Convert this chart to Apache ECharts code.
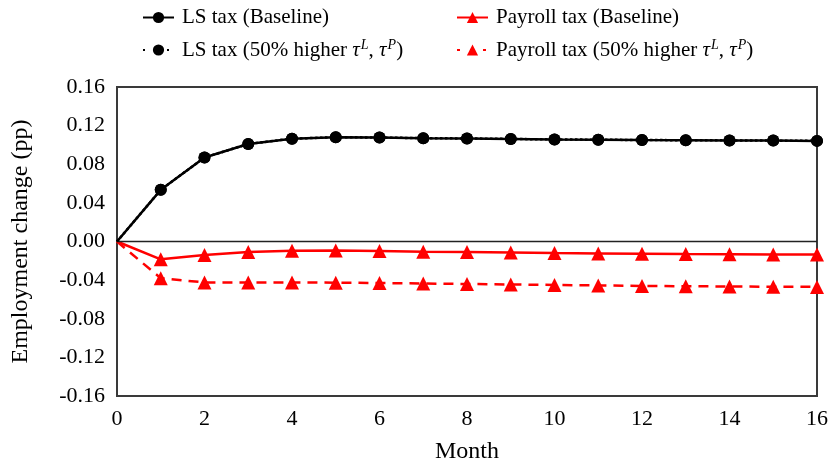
<!DOCTYPE html>
<html>
<head>
<meta charset="utf-8">
<script src="https://cdn.jsdelivr.net/npm/echarts@6/dist/echarts.min.js"></script>
<style>html,body{margin:0;padding:0;background:#fff}#c{width:831px;height:470px}</style>
</head>
<body>
<div id="c"></div>
<script>
const months = [0,1,2,3,4,5,6,7,8,9,10,11,12,13,14,15,16];
const xTicks = [0,2,4,6,8,10,12,14,16];
const yTicks = [-0.16,-0.12,-0.08,-0.04,0,0.04,0.08,0.12,0.16];
const lsBaseline = [0,0.0535,0.087,0.101,0.1065,0.108,0.1077,0.107,0.1067,0.1062,0.1057,0.1054,0.1051,0.1049,0.1047,0.1045,0.1042];
const lsHigher   = [0,0.0535,0.087,0.101,0.1065,0.108,0.1077,0.107,0.1067,0.1062,0.1057,0.1054,0.1051,0.1049,0.1047,0.1045,0.1042];
const payBaseline = [0,-0.0185,-0.014,-0.011,-0.0095,-0.0094,-0.0099,-0.0105,-0.011,-0.0115,-0.012,-0.0124,-0.0127,-0.013,-0.0132,-0.0134,-0.0135];
const payHigher   = [0,-0.038,-0.0424,-0.0424,-0.0424,-0.0426,-0.043,-0.0435,-0.044,-0.0445,-0.045,-0.0455,-0.046,-0.0463,-0.0466,-0.0468,-0.047];
const names = ['LS tax (Baseline)','LS tax (50% higher τL, τP)','Payroll tax (Baseline)','Payroll tax (50% higher τL, τP)'];

const FONT = 'Liberation Serif';
function pts(arr){
  return arr.map((v,i)=> i===0 ? {value:[months[i],v], symbol:'none'} : [months[i],v]);
}
function legendFmt(n){
  if(n.indexOf('τL')<0) return n;
  const base = n.split('τL')[0];
  return base + '{i|τ}{s|L}, {i|τ}{s|P})';
}
const rich = {
  i:{fontFamily:FONT,fontSize:21,fontStyle:'italic',color:'#000'},
  s:{fontFamily:FONT,fontSize:14,fontStyle:'italic',color:'#000',verticalAlign:'top',padding:[0,0,10,1]}
};
const legendText = {fontFamily:FONT,fontSize:21,color:'#000',padding:[0,0,0,3],rich:rich};

const chart = echarts.init(document.getElementById('c'),null,{renderer:'canvas'});
chart.setOption({
  animation:false,
  backgroundColor:'#fff',
  legend:[
    {orient:'vertical',left:137,top:2,itemWidth:31,itemHeight:14,itemGap:10,
     data:[{name:names[0]},{name:names[1],lineStyle:{type:[2,10]}}],
     formatter:legendFmt,textStyle:legendText,selectedMode:false},
    {orient:'vertical',left:451,top:2,itemWidth:31,itemHeight:14,itemGap:10,
     data:[{name:names[2]},{name:names[3],lineStyle:{type:[3,10]}}],
     formatter:legendFmt,textStyle:legendText,selectedMode:false}
  ],
  grid:{left:117,right:13,top:87,bottom:74,show:true,borderColor:'#3a3a3a',borderWidth:2,backgroundColor:'transparent'},
  xAxis:{type:'value',min:0,max:16,interval:2,
    name:'Month',nameLocation:'middle',nameGap:44,
    nameTextStyle:{fontFamily:FONT,fontSize:24,color:'#000'},
    axisLine:{show:false},axisTick:{show:false},splitLine:{show:false},
    axisLabel:{fontFamily:FONT,fontSize:22,color:'#000',margin:12,
      formatter:v=> xTicks.indexOf(v)>=0 ? String(v) : ''}},
  yAxis:{type:'value',min:-0.16,max:0.16,interval:0.04,
    name:'Employment change (pp)',nameLocation:'middle',nameGap:84,
    nameTextStyle:{fontFamily:FONT,fontSize:24,color:'#000'},
    axisLine:{show:false},axisTick:{show:false},splitLine:{show:false},
    axisLabel:{fontFamily:FONT,fontSize:22,color:'#000',margin:12,
      formatter:v=>{const t=yTicks.find(x=>Math.abs(x-v)<1e-9); return t===undefined?'':t.toFixed(2);}}},
  series:[
    {name:names[2],type:'line',data:pts(payBaseline),symbol:'triangle',symbolSize:14,
     lineStyle:{color:'#ff0000',width:2.5},itemStyle:{color:'#ff0000'},z:3,
     markLine:{silent:true,symbol:'none',label:{show:false},lineStyle:{color:'#222',width:1.3,type:'solid'},data:[{yAxis:0}]}},
    {name:names[3],type:'line',data:pts(payHigher),symbol:'triangle',symbolSize:14,
     lineStyle:{color:'#ff0000',width:2.5,type:[10,7]},itemStyle:{color:'#ff0000'},z:3},
    {name:names[1],type:'line',data:pts(lsHigher),symbol:'circle',symbolSize:12,
     lineStyle:{color:'#000',width:2.5,type:'dotted'},itemStyle:{color:'#000'},z:4},
    {name:names[0],type:'line',data:pts(lsBaseline),symbol:'circle',symbolSize:12,
     lineStyle:{color:'#000',width:2.5},itemStyle:{color:'#000'},z:5}
  ]
});
</script>
</body>
</html>
